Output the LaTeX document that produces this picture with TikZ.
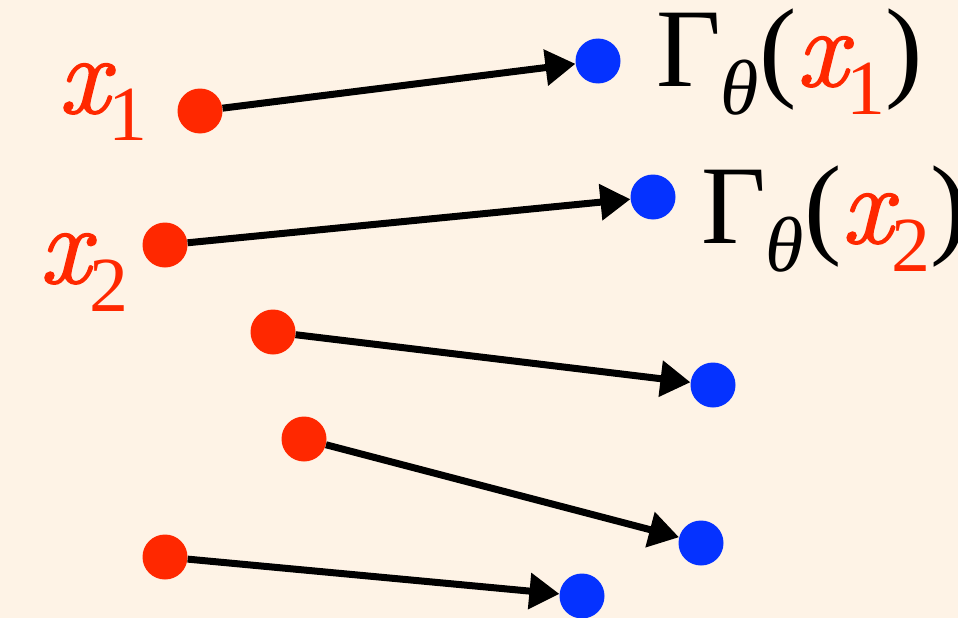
\documentclass[tikz,border=0pt]{standalone}
\usepackage{fontspec}
\setmainfont{Liberation Serif}[ItalicFont={Liberation Serif Italic}]
\newfontfamily\varfont{Latin Modern Roman}[FakeBold=1.5]
\usetikzlibrary{arrows.meta}
\definecolor{bgcream}{RGB}{254,243,230}
\definecolor{ptred}{RGB}{255,40,0}
\definecolor{ptblue}{RGB}{5,50,255}
\newcommand{\subsz}{\fontsize{78}{80}\selectfont}
\newcommand{\sub}[1]{\raisebox{-28pt}{\subsz #1}}
\newcommand{\varx}{{\varfont\itshape x}}

\begin{document}
\begin{tikzpicture}[x=1pt,y=-1pt, every node/.style={font=\fontsize{112}{120}\selectfont},
    reddot/.style={circle,fill=ptred,inner sep=0pt,minimum size=45pt},
    bluedot/.style={circle,fill=ptblue,inner sep=0pt,minimum size=45pt},
    maplink/.style={line width=7pt,-{Triangle[length=30pt,width=35pt]}},
    lbl/.style={inner sep=0pt}]
  \fill[bgcream] (0,0) rectangle (958,618);
  \useasboundingbox (0,0) rectangle (958,618);
  \foreach \i/\rx/\ry/\bx/\by in {1/200/111/598/61, 2/165/245/653/197,
      3/273/332/713/385, 4/304/439/701/543, 5/165/557/582/596} {
    \node[reddot] (r\i) at (\rx,\ry) {};
    \node[bluedot] (b\i) at (\bx,\by) {};
    \draw[maplink] (r\i) -- (b\i);
  }
  % labels
  \node[lbl,anchor=base east,text=ptred] (lx1) at (148,113) {\varx\sub{1}};
  \node[lbl,anchor=base east,text=ptred] (lx2) at (129,283) {\varx\sub{2}};
  \node[lbl,anchor=base west] (lg1) at (656,86)
    {Γ\sub{\itshape θ}(\textcolor{ptred}{\varx\sub{1}})};
  \node[lbl,anchor=base west] (lg2) at (701,243)
    {Γ\sub{\itshape θ}(\textcolor{ptred}{\varx\sub{2}})};
\end{tikzpicture}
\end{document}
